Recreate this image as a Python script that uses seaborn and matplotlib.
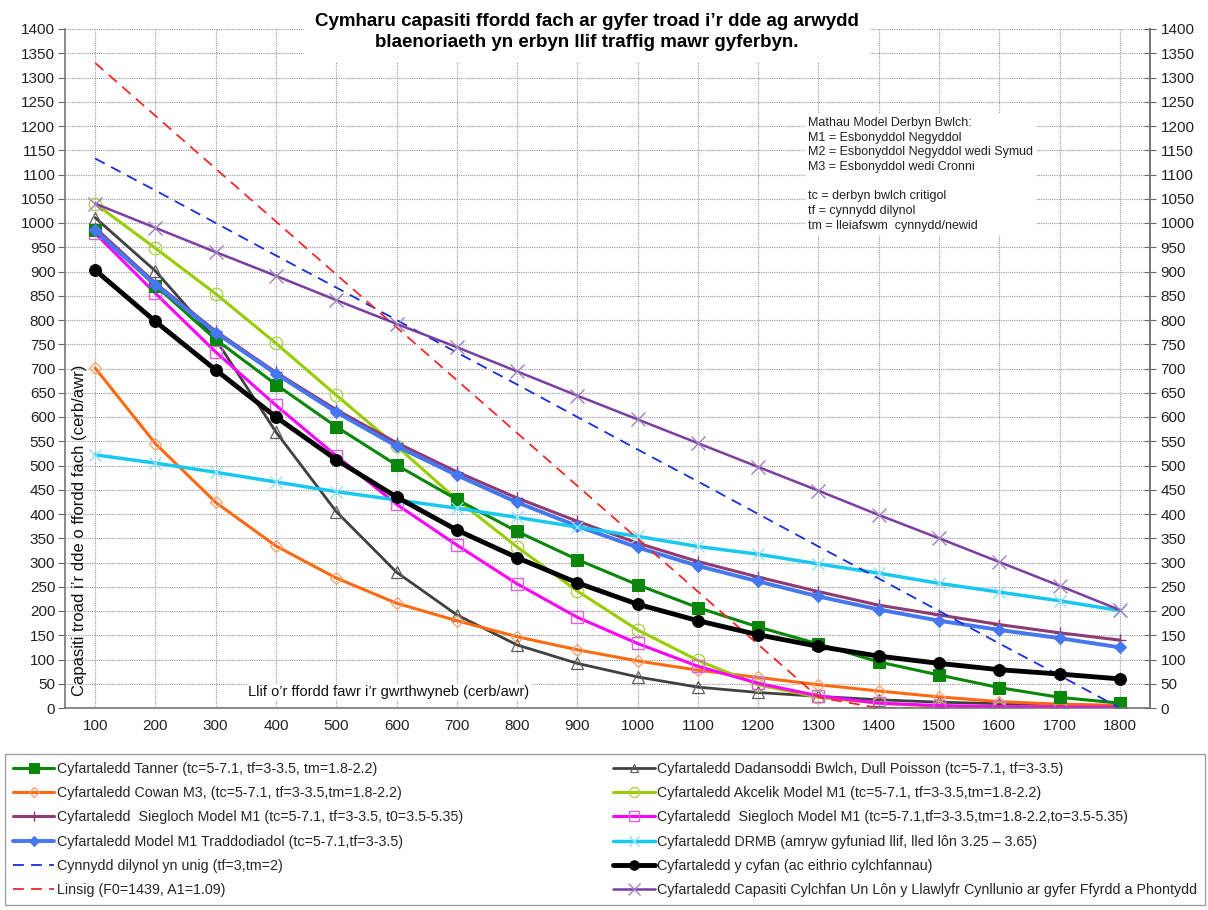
import matplotlib
matplotlib.use("Agg")
import matplotlib.pyplot as plt
import seaborn as sns
import numpy as np

# ---------------- data ----------------
flows = [100, 200, 300, 400, 500, 600, 700, 800, 900, 1000,
         1100, 1200, 1300, 1400, 1500, 1600, 1700, 1800]

tanner = [985, 871, 760, 667, 580, 501, 430, 364, 306, 254, 207, 167, 132, 95, 68, 42, 22, 10]
poisson = [1011, 901, 760, 569, 405, 280, 192, 130, 92, 64, 43, 32, 24, 17, 12, 9, 7, 5]
cowan = [701, 545, 424, 334, 268, 216, 180, 147, 120, 97, 78, 63, 48, 35, 23, 13, 8, 5]
akcelik = [1040, 948, 854, 752, 645, 540, 430, 332, 241, 161, 98, 48, 22, 10, 3, 1, 0, 0]
siegloch_t0 = [990, 876, 777, 692, 615, 547, 487, 433, 385, 340, 302, 270, 240, 212, 192, 172, 155, 140]
siegloch_tm = [979, 855, 734, 624, 520, 420, 336, 256, 187, 133, 86, 51, 25, 10, 5, 3, 2, 2]
m1_trad = [985, 873, 774, 689, 610, 540, 480, 424, 375, 331, 293, 261, 230, 203, 180, 161, 144, 125]
drmb = [522, 505, 486, 466, 446, 429, 412, 393, 373, 354, 333, 317, 297, 278, 257, 239, 221, 201]
follow_up = [1133, 1067, 1000, 933, 867, 800, 733, 667, 600, 533, 467, 400, 333, 267, 200, 133, 67, 0]
overall = [903, 797, 697, 600, 512, 435, 367, 310, 258, 214, 180, 151, 127, 107, 92, 79, 70, 60]
linsig = [1330, 1221, 1112, 1003, 894, 785, 676, 567, 458, 349, 240, 131, 22, 0, 0, 0, 0, 0]
roundabout = [1040, 990, 940, 891, 841, 792, 744, 694, 644, 595, 546, 497, 448, 398, 350, 301, 252, 202]

labels = {
    "tanner": "Cyfartaledd Tanner (tc=5-7.1, tf=3-3.5, tm=1.8-2.2)",
    "cowan": "Cyfartaledd Cowan M3, (tc=5-7.1, tf=3-3.5,tm=1.8-2.2)",
    "siegloch_t0": "Cyfartaledd  Siegloch Model M1 (tc=5-7.1, tf=3-3.5, t0=3.5-5.35)",
    "m1_trad": "Cyfartaledd Model M1 Traddodiadol (tc=5-7.1,tf=3-3.5)",
    "follow_up": "Cynnydd dilynol yn unig (tf=3,tm=2)",
    "linsig": "Linsig (F0=1439, A1=1.09)",
    "poisson": "Cyfartaledd Dadansoddi Bwlch, Dull Poisson (tc=5-7.1, tf=3-3.5)",
    "akcelik": "Cyfartaledd Akcelik Model M1 (tc=5-7.1, tf=3-3.5,tm=1.8-2.2)",
    "siegloch_tm": "Cyfartaledd  Siegloch Model M1 (tc=5-7.1,tf=3-3.5,tm=1.8-2.2,to=3.5-5.35)",
    "drmb": "Cyfartaledd DRMB (amryw gyfuniad llif, lled lôn 3.25 \u2013 3.65)",
    "overall": "Cyfartaledd y cyfan (ac eithrio cylchfannau)",
    "roundabout": "Cyfartaledd Capasiti Cylchfan Un Lôn y Llawlyfr Cynllunio ar gyfer Ffyrdd a Phontydd",
}

title = "Cymharu capasiti ffordd fach ar gyfer troad i\u2019r dde ag arwydd\nblaenoriaeth yn erbyn llif traffig mawr gyferbyn."
ylabel = "Capasiti troad i\u2019r dde o ffordd fach (cerb/awr)"
xlabel = "Llif o\u2019r ffordd fawr i\u2019r gwrthwyneb (cerb/awr)"
note = ("Mathau Model Derbyn Bwlch:\n"
        "M1 = Esbonyddol Negyddol\n"
        "M2 = Esbonyddol Negyddol wedi Symud\n"
        "M3 = Esbonyddol wedi Cronni\n"
        "\n"
        "tc = derbyn bwlch critigol\n"
        "tf = cynnydd dilynol\n"
        "tm = lleiafswm  cynnydd/newid")

# ---------------- style ----------------
sns.set_style("white")
plt.rcParams["font.family"] = ["Liberation Sans", "DejaVu Sans"]

fig = plt.figure(figsize=(12.08, 9.10), dpi=100)
ax = fig.add_axes([65 / 1208, 1 - 708 / 910, (1150 - 65) / 1208, (708 - 29) / 910])

series = [
    ("poisson", poisson, dict(color="#404040", lw=2.0, marker="^", ms=8, mfc="none", mec="#606060", mew=0.9)),
    ("cowan", cowan, dict(color="#FF6A10", lw=2.2, marker="D", ms=6, mfc="none", mec="#F4A070", mew=0.9)),
    ("akcelik", akcelik, dict(color="#99CC00", lw=2.2, marker="o", ms=9, mfc="none", mec="#A8D040", mew=0.9)),
    ("siegloch_tm", siegloch_tm, dict(color="#FF00FF", lw=2.2, marker="s", ms=9, mfc="none", mec="#E060E0", mew=1.0)),
    ("tanner", tanner, dict(color="#0A870A", lw=2.2, marker="s", ms=8.5, mfc="#0A870A", mec="#0A870A")),
    ("siegloch_t0", siegloch_t0, dict(color="#8E3B73", lw=2.2, marker="+", ms=9, mec="#8E3B73", mew=1.0)),
    ("m1_trad", m1_trad, dict(color="#4477F0", lw=2.8, marker="D", ms=6.5, mfc="#4477F0", mec="#4477F0")),
    ("drmb", drmb, dict(color="#19C8F0", lw=2.5, marker="x", ms=9, mec="#90E0F0", mew=1.0)),
    ("follow_up", follow_up, dict(color="#1A2DDC", lw=1.3, linestyle=(0, (6, 4)))),
    ("linsig", linsig, dict(color="#F02828", lw=1.3, linestyle=(0, (6, 4)))),
    ("roundabout", roundabout, dict(color="#7A3DA0", lw=1.8, marker="x", ms=10, mec="#A080C0", mew=1.0)),
    ("overall", overall, dict(color="#000000", lw=3.5, marker="o", ms=8.5, mfc="#000000", mec="#000000")),
]

handles = {}
for key, vals, kw in series:
    sns.lineplot(x=flows, y=vals, ax=ax, label=labels[key], **kw)
    handles[key] = ax.lines[-1]

if ax.get_legend() is not None:
    ax.get_legend().remove()

# ---------------- axes ----------------
ax.set_xlim(50, 1850)
ax.set_ylim(0, 1400)
ax.set_xticks(flows)
ax.set_xticks(np.arange(50, 1851, 100), minor=True)
ax.set_yticks(np.arange(0, 1401, 50))
ax.tick_params(axis="x", which="major", length=0, labelsize=11, pad=8, colors="#222222")
ax.tick_params(axis="x", which="minor", length=5, direction="out", color="#666666", width=1)
ax.tick_params(axis="y", which="major", length=5, direction="out", labelsize=11, pad=2,
               color="#666666", labelcolor="#222222")
ax.grid(True, which="major", axis="both", color="#9A9A9A", linestyle=(0, (1, 1)), linewidth=0.8)
ax.set_axisbelow(True)
for side in ["left", "right", "bottom"]:
    ax.spines[side].set_color("#777777")
    ax.spines[side].set_linewidth(1.2)
ax.spines["top"].set_visible(False)
ax.set_xlabel("")
ax.set_ylabel("")

ax2 = ax.twinx()
ax2.set_ylim(0, 1400)
ax2.set_yticks(np.arange(0, 1401, 50))
ax2.tick_params(axis="y", length=9, direction="inout", labelsize=11, pad=3,
                color="#666666", labelcolor="#222222")
for side in ["left", "top", "bottom"]:
    ax2.spines[side].set_visible(False)
ax2.spines["right"].set_color("#777777")
ax2.spines["right"].set_linewidth(1.2)
ax2.grid(False)

# axis titles inside the plot
ax.text((80 - 65) / 1085, (708 - 530) / 679, ylabel, transform=ax.transAxes,
        rotation=90, ha="center", va="center", fontsize=12, color="#111111")
ax.text((248 - 65) / 1085, (708 - 692) / 679, xlabel, transform=ax.transAxes,
        ha="left", va="center", fontsize=10.5, color="#111111",
        bbox=dict(facecolor="white", edgecolor="none", pad=1))

# notes box
ax.text((808 - 65) / 1085, (708 - 117) / 679, note, transform=ax.transAxes,
        ha="left", va="top", fontsize=9.0, linespacing=1.3, color="#222222",
        bbox=dict(facecolor="white", edgecolor="none", pad=2))

# title
fig.text(587 / 1208, 1 - 32 / 910, title, ha="center", va="center", fontsize=13.5,
         fontweight="bold", linespacing=1.3, color="#000000",
         bbox=dict(facecolor="white", edgecolor="none", pad=8), zorder=5)

# legend
order = ["tanner", "cowan", "siegloch_t0", "m1_trad", "follow_up", "linsig",
         "poisson", "akcelik", "siegloch_tm", "drmb", "overall", "roundabout"]
leg = fig.legend([handles[k] for k in order], [labels[k] for k in order],
                 ncol=2, loc="lower left",
                 bbox_to_anchor=(5 / 1208, 5 / 910, 1200 / 1208, 148 / 910),
                 mode="expand", fontsize=10.3, frameon=True, fancybox=False,
                 edgecolor="#888888", handlelength=2.9, handletextpad=0.15,
                 labelspacing=0.72, borderaxespad=0, borderpad=0.55, markerscale=0.8)
leg.get_frame().set_linewidth(1.0)

fig.savefig("out.png", dpi=100, facecolor="white")
